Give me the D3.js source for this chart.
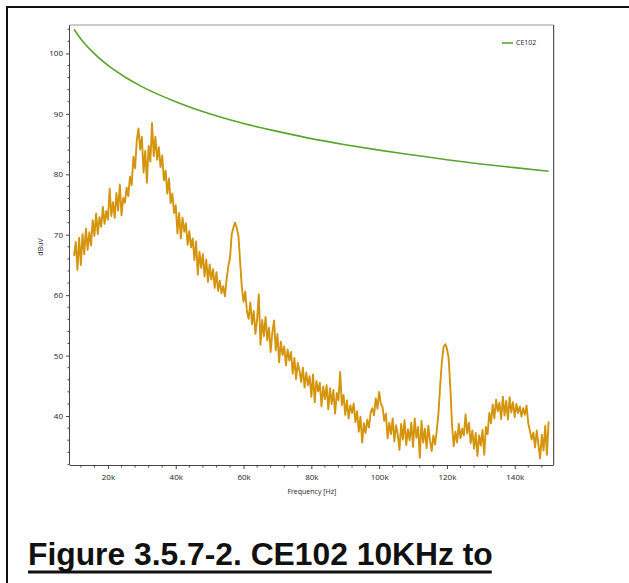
<!DOCTYPE html>
<html>
<head>
<meta charset="utf-8">
<script src="https://cdn.jsdelivr.net/npm/d3@7"></script>
<style>
  body { margin: 0; background: #fff; }
  svg text { font-family: "Open Sans", "Noto Sans", sans-serif; }
</style>
</head>
<body>
<div id="chart"></div>
<script>
// CE102 limit line (kHz, dBuV)
var limitFreq = [10, 12, 15, 20, 25, 30, 40, 50, 60, 70, 80, 90, 100, 110, 120, 130, 140, 150]
var limitVals = [104, 102.4, 100.5, 98, 96.1, 94.5, 92, 90, 88.4, 87.1, 85.9, 84.9, 84, 83.2, 82.4, 81.7, 81.1, 80.5]

// measured spectrum, one value every 0.5 kHz from 10 kHz to 150 kHz
var measStart = 10, measStep = 0.5
var measVals = [
  66.5, 68.8, 64.2, 69.5, 65.0, 70.1, 66.8, 71.0, 67.5, 70.4,
  68.2, 72.4, 69.8, 73.5, 70.1, 72.9, 71.3, 74.6, 71.8, 73.9,
  72.5, 77.6, 73.1, 75.4, 72.8, 76.9, 74.0, 78.3, 73.2, 76.1,
  75.3, 77.8, 76.4, 79.6, 78.2, 82.9, 81.0, 85.6, 87.6, 84.1,
  86.2, 80.3, 83.9, 78.6, 84.7, 82.1, 88.5, 83.0, 86.2, 82.4,
  84.5, 81.2, 83.1, 79.0, 80.6, 76.8, 79.3, 75.2, 76.8, 73.6,
  74.9, 70.2, 73.6, 69.4, 72.8, 70.5, 71.9, 68.3, 70.6, 67.9,
  69.4, 65.8, 68.9, 63.4, 67.2, 64.5, 66.8, 63.1, 65.9, 62.2,
  65.1, 62.6, 64.3, 61.2, 63.8, 60.7, 62.4, 60.3, 61.5, 59.8,
  62.6, 64.8, 66.1, 70.0, 71.2, 72.0, 71.1, 69.8, 65.4, 61.3,
  58.9, 60.6, 57.3, 56.1, 58.8, 55.2, 57.4, 53.6, 56.0, 60.1,
  51.8, 55.9, 53.2, 56.4, 52.5, 54.6, 50.6, 53.9, 55.8, 50.9,
  53.6, 48.9, 52.3, 50.1, 51.5, 48.4, 51.0, 49.2, 50.6, 47.0,
  49.6, 46.1, 48.8, 47.5, 45.6, 48.0, 44.7, 47.2, 45.1, 46.6,
  43.2, 46.9, 42.3, 45.8, 44.1, 45.5, 41.6, 44.9, 42.8, 45.1,
  41.1, 44.6, 42.0, 44.3, 40.4, 43.8, 42.6, 47.3, 41.8, 43.5,
  40.2, 42.6, 39.6, 41.8, 40.5, 42.1, 39.0, 40.8, 37.4, 39.9,
  35.6, 38.8, 37.2, 39.4, 38.1, 40.6, 41.3, 40.1, 42.9, 41.2,
  44.0, 42.0, 41.5, 39.2, 40.4, 36.3, 38.9, 37.0, 39.6, 35.8,
  38.5, 36.9, 34.4, 38.7, 36.1, 39.3, 35.2, 37.8, 36.0, 38.9,
  34.9, 39.6, 36.4, 38.2, 33.1, 39.2, 35.6, 37.9, 34.7, 38.4,
  36.0, 34.2, 36.8, 35.3, 37.6, 40.4, 45.0, 48.9, 51.4, 51.9,
  51.2, 49.6, 44.8, 38.6, 35.0, 37.4, 35.6, 38.7, 36.3, 37.9,
  36.8, 40.3, 37.1, 38.9, 35.5, 37.6, 34.6, 37.2, 33.4, 36.8,
  35.1, 37.7, 33.6, 38.2, 37.0, 40.5, 38.8, 41.9, 39.6, 42.7,
  40.8, 42.2, 39.5, 43.2, 40.1, 42.5, 39.4, 43.1, 40.6, 42.3,
  39.8, 42.0, 40.5, 41.6, 39.9, 41.3, 40.2, 41.7, 38.8, 37.5,
  36.1, 37.3, 34.8, 37.6, 35.2, 33.0, 36.9, 34.3, 38.4, 33.6, 39.1
]

var xMajor = [20, 40, 60, 80, 100, 120, 140]
var yMajor = [40, 50, 60, 70, 80, 90, 100]
var legendLabel = 'CE102'
var xTitle = 'Frequency [Hz]'
var yTitle = 'dBuV'
var caption = 'Figure 3.5.7-2. CE102 10KHz to'

var W = 629, H = 583
var plot = {left: 70, right: 553.7, top: 25, bottom: 465}

var svg = d3.select('#chart').append('svg')
  .attr('width', W).attr('height', H)

// outer page frame
svg.append('path')
  .attr('d', 'M7,' + H + 'V7H' + W)
  .attr('fill', 'none').attr('stroke', '#111').attr('stroke-width', 2)

var x = d3.scaleLinear().domain([8.8, 151.5]).range([plot.left, plot.right])
var y = d3.scaleLinear().domain([31.9, 104.7]).range([plot.bottom, plot.top])

// plot frame: top light, right dark
svg.append('line').attr('x1', plot.left).attr('x2', plot.right)
  .attr('y1', plot.top).attr('y2', plot.top)
  .attr('stroke', '#999').attr('stroke-width', 1)
svg.append('line').attr('x1', plot.right).attr('x2', plot.right)
  .attr('y1', plot.top).attr('y2', plot.bottom)
  .attr('stroke', '#333').attr('stroke-width', 1)

// x axis
var xMinor = d3.range(12, 151, 4).filter(d => xMajor.indexOf(d) < 0)
var xAxisG = svg.append('g').attr('transform', 'translate(0,' + plot.bottom + ')')
xAxisG.call(d3.axisBottom(x).tickValues(xMajor).tickSize(4).tickSizeOuter(0)
  .tickFormat(d => d + 'k'))
xAxisG.append('g').selectAll('line').data(xMinor).join('line')
  .attr('x1', d => x(d)).attr('x2', d => x(d)).attr('y1', 0).attr('y2', 2.5)
  .attr('stroke', '#444')
xAxisG.select('.domain').attr('stroke', '#444').attr('d', 'M' + plot.left + ',0.5H' + plot.right)
xAxisG.selectAll('.tick line').attr('stroke', '#444')
xAxisG.selectAll('text').attr('font-size', 8).attr('fill', '#222').attr('y', 9)

// y axis
var yMinor = d3.range(32, 105, 2).filter(d => yMajor.indexOf(d) < 0)
var yAxisG = svg.append('g').attr('transform', 'translate(' + plot.left + ',0)')
yAxisG.call(d3.axisLeft(y).tickValues(yMajor).tickSize(4).tickSizeOuter(0))
yAxisG.append('g').selectAll('line').data(yMinor).join('line')
  .attr('y1', d => y(d)).attr('y2', d => y(d)).attr('x1', 0).attr('x2', -2.5)
  .attr('stroke', '#444')
yAxisG.select('.domain').attr('stroke', '#444').attr('d', 'M-0.5,' + plot.top + 'V' + plot.bottom)
yAxisG.selectAll('.tick line').attr('stroke', '#444')
yAxisG.selectAll('text').attr('font-size', 8).attr('fill', '#222').attr('x', -7)

// axis titles
svg.append('text').attr('x', (plot.left + plot.right) / 2 + 0).attr('y', 494)
  .attr('text-anchor', 'middle').attr('font-size', 7).attr('fill', '#222').text(xTitle)
svg.append('text').attr('transform', 'translate(43,247) rotate(-90)')
  .attr('text-anchor', 'middle').attr('font-size', 7).attr('fill', '#222').text(yTitle)

// series
var measData = measVals.map((v, i) => [measStart + i * measStep, v])
var limitData = limitFreq.map((f, i) => [f, limitVals[i]])

svg.append('clipPath').attr('id', 'plotclip').append('rect')
  .attr('x', plot.left).attr('y', plot.top)
  .attr('width', plot.right - plot.left).attr('height', plot.bottom - plot.top)

var line = d3.line().x(d => x(d[0])).y(d => y(d[1]))

svg.append('path').datum(measData)
  .attr('clip-path', 'url(#plotclip)')
  .attr('d', line)
  .attr('fill', 'none').attr('stroke', '#D4940E').attr('stroke-width', 1.9)
  .attr('stroke-linejoin', 'round')

svg.append('path').datum(limitData)
  .attr('clip-path', 'url(#plotclip)')
  .attr('d', line.curve(d3.curveMonotoneX))
  .attr('fill', 'none').attr('stroke', '#5AA52B').attr('stroke-width', 1.6)

// legend
svg.append('line').attr('x1', 502).attr('x2', 513).attr('y1', 43).attr('y2', 43)
  .attr('stroke', '#5AA52B').attr('stroke-width', 1.6)
svg.append('text').attr('x', 516).attr('y', 43).attr('dy', '0.35em')
  .attr('font-size', 7).attr('fill', '#222').text(legendLabel)

// caption
var cap = svg.append('text').attr('x', 28).attr('y', 565)
  .style('font-family', '"Liberation Sans", Arial, sans-serif')
  .attr('font-weight', 'bold').attr('font-size', 31.8).attr('fill', '#111')
  .text(caption)
var bb = cap.node().getBBox()
svg.append('rect').attr('x', 28).attr('y', 570.5).attr('width', bb.width - 1).attr('height', 3)
  .attr('fill', '#111')
</script>
</body>
</html>
